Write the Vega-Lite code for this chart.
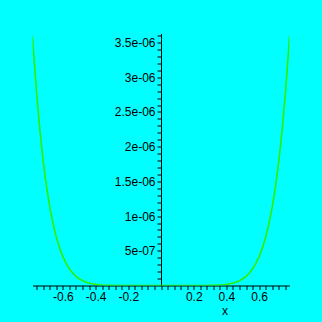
{
  "$schema": "https://vega.github.io/schema/vega-lite/v6.json",
  "width": 257,
  "height": 252,
  "autosize": "none",
  "padding": {"left": 32.5, "top": 33.5, "right": 32.5, "bottom": 36.5},
  "background": "#00ffff",
  "config": {
    "view": {"stroke": null},
    "axis": {"grid": false, "domainColor": "#000000", "tickColor": "#000000", "labelColor": "#000000", "titleColor": "#000000", "labelFont": "Liberation Sans", "titleFont": "Liberation Sans", "labelFontSize": 12, "titleFontSize": 12, "titleFontWeight": "normal", "domainWidth": 1, "tickWidth": 1, "labelOverlap": false, "labelBound": false, "labelFlush": false}
  },
  "data": {"values": [
    {"x": -0.7854, "y": 3.5908e-6},
    {"x": -0.78, "y": 3.3981e-6},
    {"x": -0.76, "y": 2.7605e-6},
    {"x": -0.74, "y": 2.2302e-6},
    {"x": -0.72, "y": 1.7912e-6},
    {"x": -0.70, "y": 1.4298e-6},
    {"x": -0.68, "y": 1.1338e-6},
    {"x": -0.66, "y": 8.9296e-7},
    {"x": -0.64, "y": 6.9809e-7},
    {"x": -0.62, "y": 5.4152e-7},
    {"x": -0.60, "y": 4.1657e-7},
    {"x": -0.58, "y": 3.1761e-7},
    {"x": -0.56, "y": 2.3987e-7},
    {"x": -0.54, "y": 1.7932e-7},
    {"x": -0.52, "y": 1.3259e-7},
    {"x": -0.50, "y": 9.688e-8},
    {"x": -0.48, "y": 6.989e-8},
    {"x": -0.46, "y": 4.972e-8},
    {"x": -0.44, "y": 3.484e-8},
    {"x": -0.42, "y": 2.401e-8},
    {"x": -0.40, "y": 1.625e-8},
    {"x": -0.38, "y": 1.078e-8},
    {"x": -0.36, "y": 7.0e-9},
    {"x": -0.34, "y": 4.43e-9},
    {"x": -0.32, "y": 2.73e-9},
    {"x": -0.30, "y": 1.63e-9},
    {"x": -0.28, "y": 9.4e-10},
    {"x": -0.24, "y": 2.7e-10},
    {"x": -0.20, "y": 6.3e-11},
    {"x": -0.10, "y": 2.5e-13},
    {"x": 0.0, "y": 0},
    {"x": 0.10, "y": 2.5e-13},
    {"x": 0.20, "y": 6.3e-11},
    {"x": 0.24, "y": 2.7e-10},
    {"x": 0.28, "y": 9.4e-10},
    {"x": 0.30, "y": 1.63e-9},
    {"x": 0.32, "y": 2.73e-9},
    {"x": 0.34, "y": 4.43e-9},
    {"x": 0.36, "y": 7.0e-9},
    {"x": 0.38, "y": 1.078e-8},
    {"x": 0.40, "y": 1.625e-8},
    {"x": 0.42, "y": 2.401e-8},
    {"x": 0.44, "y": 3.484e-8},
    {"x": 0.46, "y": 4.972e-8},
    {"x": 0.48, "y": 6.989e-8},
    {"x": 0.50, "y": 9.688e-8},
    {"x": 0.52, "y": 1.3259e-7},
    {"x": 0.54, "y": 1.7932e-7},
    {"x": 0.56, "y": 2.3987e-7},
    {"x": 0.58, "y": 3.1761e-7},
    {"x": 0.60, "y": 4.1657e-7},
    {"x": 0.62, "y": 5.4152e-7},
    {"x": 0.64, "y": 6.9809e-7},
    {"x": 0.66, "y": 8.9296e-7},
    {"x": 0.68, "y": 1.1338e-6},
    {"x": 0.70, "y": 1.4298e-6},
    {"x": 0.72, "y": 1.7912e-6},
    {"x": 0.74, "y": 2.2302e-6},
    {"x": 0.76, "y": 2.7605e-6},
    {"x": 0.78, "y": 3.3981e-6},
    {"x": 0.7854, "y": 3.5908e-6}
  ]},
  "mark": {"type": "line", "color": "#2cf000", "strokeWidth": 1.6, "clip": true},
  "encoding": {
    "x": {
      "field": "x", "type": "quantitative",
      "scale": {"domain": [-0.7854, 0.7854], "nice": false, "zero": false},
      "axis": {
        "title": "x",
        "titleX": 192,
        "titleY": 25,
        "titleBaseline": "middle",
        "titleAnchor": null,
        "values": [-0.76, -0.72, -0.68, -0.64, -0.6, -0.56, -0.52, -0.48, -0.44, -0.4, -0.36, -0.32, -0.28, -0.24, -0.2, -0.16, -0.12, -0.08, -0.04, 0, 0.04, 0.08, 0.12, 0.16, 0.2, 0.24, 0.28, 0.32, 0.36, 0.4, 0.44, 0.48, 0.52, 0.56, 0.6, 0.64, 0.68, 0.72, 0.76],
        "labelExpr": "(abs(round(datum.value*100)) % 20 == 0 && datum.value != 0) ? replace(format(datum.value, '.1f'), '\u2212', '-') : ''",
        "tickSize": 4,
        "labelPadding": 2
      }
    },
    "y": {
      "field": "y", "type": "quantitative",
      "scale": {"domain": [0, 3.63e-6], "nice": false},
      "axis": {
        "title": null,
        "offset": -128.5,
        "values": [1e-7, 2e-7, 3e-7, 4e-7, 5e-7, 6e-7, 7e-7, 8e-7, 9e-7, 1e-6, 1.1e-6, 1.2e-6, 1.3e-6, 1.4e-6, 1.5e-6, 1.6e-6, 1.7e-6, 1.8e-6, 1.9e-6, 2e-6, 2.1e-6, 2.2e-6, 2.3e-6, 2.4e-6, 2.5e-6, 2.6e-6, 2.7e-6, 2.8e-6, 2.9e-6, 3e-6, 3.1e-6, 3.2e-6, 3.3e-6, 3.4e-6, 3.5e-6, 3.6e-6],
        "labelExpr": "round(datum.value*1e7) % 5 != 0 ? '' : (round(datum.value*1e7) == 5 ? '5e-07' : format(round(datum.value*1e7)/10, '~g') + 'e-06')",
        "tickSize": 4,
        "labelPadding": 2
      }
    }
  }
}
